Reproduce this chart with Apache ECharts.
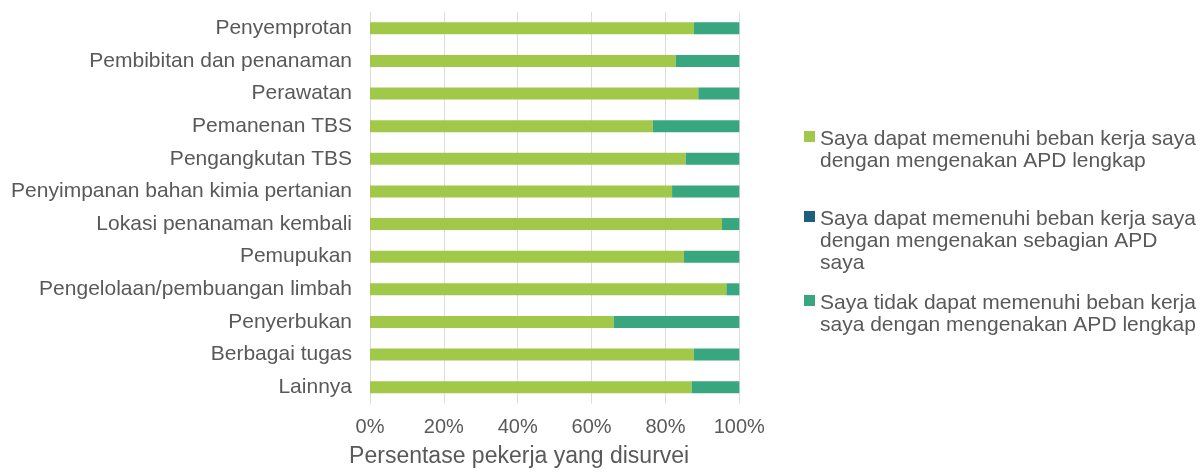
<!DOCTYPE html>
<html>
<head>
<meta charset="utf-8">
<script src="https://cdn.jsdelivr.net/npm/echarts@6/dist/echarts.min.js"></script>
<style>html,body{margin:0;padding:0;background:#fff;}#c{width:1203px;height:475px;}</style>
</head>
<body>
<div id="c"></div>
<script>
var categories = ["Penyemprotan", "Pembibitan dan penanaman", "Perawatan", "Pemanenan TBS", "Pengangkutan TBS", "Penyimpanan bahan kimia pertanian", "Lokasi penanaman kembali", "Pemupukan", "Pengelolaan/pembuangan limbah", "Penyerbukan", "Berbagai tugas", "Lainnya"];
var seriesNames = [
  "Saya dapat memenuhi beban kerja saya dengan mengenakan APD lengkap",
  "Saya dapat memenuhi beban kerja saya dengan mengenakan sebagian APD saya",
  "Saya tidak dapat memenuhi beban kerja saya dengan mengenakan APD lengkap"
];
var legendLines = [
  "Saya dapat memenuhi beban kerja saya\ndengan mengenakan APD lengkap",
  "Saya dapat memenuhi beban kerja saya\ndengan mengenakan sebagian APD\nsaya",
  "Saya tidak dapat memenuhi beban kerja\nsaya dengan mengenakan APD lengkap"
];
var fullAPD = [87.7, 82.8, 88.9, 76.6, 85.5, 81.8, 95.3, 85.0, 96.5, 66.0, 87.7, 87.1];
var partialAPD = [0, 0, 0, 0, 0, 0, 0, 0, 0, 0, 0, 0];
var notAble = [12.3, 17.2, 11.1, 23.4, 14.5, 18.2, 4.7, 15.0, 3.5, 34.0, 12.3, 12.9];
var xTickLabels = ["0%", "20%", "40%", "60%", "80%", "100%"];
var axisTitle = "Persentase pekerja yang disurvei";

var colors = ["#a2c84a", "#1d5f7c", "#38a67f"];
var font = "'Liberation Sans', Arial, sans-serif";
var txt = "#595959";

var chart = echarts.init(document.getElementById('c'), null, {renderer: 'canvas'});

function legendFor(i, top, nLines) {
  var h = nLines * 22;
  return {
    left: 804, top: top, orient: 'vertical', padding: 0,
    itemWidth: 11, itemHeight: h, selectedMode: false,
    data: [{name: seriesNames[i], icon: 'path://M0,3h11v11h-11z M0,0L0.01,0 M0,' + h + 'L0.01,' + h}],
    formatter: function () { return legendLines[i]; },
    textStyle: {fontFamily: font, fontSize: 21, color: txt, lineHeight: 22}
  };
}

var option = {
  animation: false,
  grid: {left: 370, top: 12, width: 369.3, height: 391.5, containLabel: false},
  legend: [legendFor(0, 128, 2), legendFor(1, 208, 3), legendFor(2, 292, 2)],
  xAxis: {
    type: 'value', min: 0, max: 100, interval: 20,
    axisLine: {show: false}, axisTick: {show: false},
    splitLine: {show: true, lineStyle: {color: '#dcdcdc', width: 1}},
    axisLabel: {
      margin: 14, fontFamily: font, fontSize: 20, color: txt,
      formatter: function (v) { return xTickLabels[Math.round(v / 20)]; }
    },
    name: axisTitle, nameLocation: 'middle', nameGap: 42,
    nameTextStyle: {fontFamily: font, fontSize: 23, color: txt, padding: [0, 71, 0, 0]}
  },
  yAxis: {
    type: 'category', data: categories, inverse: true,
    axisLine: {show: true, lineStyle: {color: '#d9d9d9', width: 1}},
    axisTick: {show: false},
    axisLabel: {margin: 18, fontFamily: font, fontSize: 21, color: txt}
  },
  series: [
    {name: seriesNames[0], type: 'bar', stack: 's', data: fullAPD, barWidth: 12, itemStyle: {color: colors[0]}},
    {name: seriesNames[1], type: 'bar', stack: 's', data: partialAPD, barWidth: 12, itemStyle: {color: colors[1]}},
    {name: seriesNames[2], type: 'bar', stack: 's', data: notAble, barWidth: 12, itemStyle: {color: colors[2]}}
  ]
};
chart.setOption(option);
</script>
</body>
</html>
